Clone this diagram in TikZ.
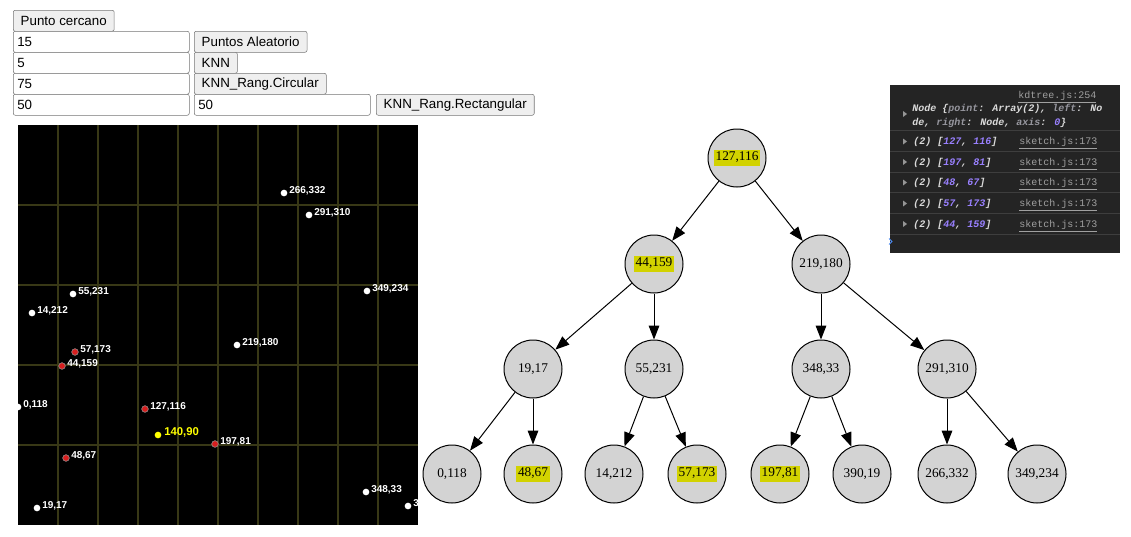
\documentclass[tikz,border=0pt]{standalone}
\usepackage{fontspec}
\usepackage{xcolor}
\setmainfont{Liberation Serif}
\newfontfamily\uifont{Liberation Sans}
\newfontfamily\consfont{Liberation Mono}
\usetikzlibrary{arrows.meta}
\definecolor{hlyellow}{RGB}{210,210,0}
\definecolor{cwhite}{RGB}{218,218,218}
\definecolor{ckey}{RGB}{150,150,158}
\definecolor{cnum}{RGB}{153,128,255}
\definecolor{clink}{RGB}{160,160,160}
\newcommand{\hlmark}[1]{{\setlength{\fboxsep}{1.5pt}\colorbox{hlyellow}{\rule[-2.6pt]{0pt}{9.4pt}#1}}}

\begin{document}
\begin{tikzpicture}[x=0.75pt,y=0.75pt,yscale=-1,xscale=1,
  btn/.style={draw={rgb, 255:red, 118; green, 118; blue, 118}, fill={rgb, 255:red, 239; green, 239; blue, 239}, rounded corners=1.5pt, anchor=north west, minimum height=15.75pt, inner xsep=5.6pt, inner ysep=0pt, font=\uifont\fontsize{10pt}{12pt}\selectfont},
  field/.style={draw={rgb, 255:red, 118; green, 118; blue, 118}, fill=white, rounded corners=1.5pt, anchor=north west, minimum height=15.75pt, text width=126pt, inner xsep=3pt, inner ysep=0pt, align=left, font=\uifont\fontsize{10pt}{12pt}\selectfont},
  dot/.style={circle, fill=white, inner sep=0pt, minimum size=5pt},
  hitdot/.style={dot, fill={rgb, 255:red, 215; green, 30; blue, 30}, draw={rgb, 255:red, 150; green, 150; blue, 150}, line width=0.4pt},
  dotlbl/.style={anchor=base west, inner sep=0pt, text=white, font=\uifont\bfseries\fontsize{7.5pt}{9pt}\selectfont},
  kd/.style={circle, draw, line width=0.75pt, fill={rgb, 255:red, 211; green, 211; blue, 211}, minimum size=43.5pt, inner sep=0pt, font=\fontsize{10pt}{12pt}\selectfont},
  kdedge/.style={-{Triangle[length=10.5pt,width=8pt]}, line width=0.75pt},
  cons/.style={anchor=base west, inner sep=0pt, text=cwhite, font=\consfont\bfseries\itshape\fontsize{7.5pt}{9pt}\selectfont},
  conslink/.style={anchor=base west, inner sep=0pt, text=clink, font=\consfont\fontsize{7.5pt}{9pt}\selectfont},
  fold/.style={fill={rgb, 255:red, 150; green, 150; blue, 150}}
]
\useasboundingbox (0,0) rectangle (1131,536);

%Controls
\node [btn] (bcerca) at (13,10) {Punto cercano};
\node [field] (fnum) at (13,31) {15};
\node [btn] (brand) at (194,31) {Puntos Aleatorio};
\node [field] (fk) at (13,52) {5};
\node [btn] (bknn) at (194,52) {KNN};
\node [field] (frad) at (13,73) {75};
\node [btn] (bcirc) at (194,73) {KNN\_Rang.Circular};
\node [field] (fw) at (13,94) {50};
\node [field] (fh) at (194,94) {50};
\node [btn] (brect) at (376,94) {KNN\_Rang.Rectangular};

%Canvas
\fill [black] (18,125) rectangle (418,525);
\begin{scope}
\clip (18,125) rectangle (418,525);
\foreach \gx in {58,98,...,378}
  \draw [color={rgb, 255:red, 56; green, 56; blue, 22}, line width=0.9pt] (\gx,125) -- (\gx,525);
\foreach \gy in {205,285,365,445}
  \draw [color={rgb, 255:red, 56; green, 56; blue, 22}, line width=0.9pt] (18,\gy) -- (418,\gy);
%points
\foreach \px/\py in {266/332,291/310,55/231,14/212,349/234,219/180,0/118,348/33,19/17,390/19}{
  \node [dot] (p\px-\py) at ({18+\px},{525-\py}) {};
  \node [dotlbl] (l\px-\py) at ({23+\px},{525-\py}) {\px,\py};
}
\foreach \px/\py in {57/173,44/159,127/116,197/81,48/67}{
  \node [hitdot] (p\px-\py) at ({18+\px},{525-\py}) {};
  \node [dotlbl] (l\px-\py) at ({23+\px},{525-\py}) {\px,\py};
}
%query point
\node [dot, fill={rgb, 255:red, 255; green, 255; blue, 0}] (q140-90) at (158,435) {};
\node [dotlbl, text={rgb, 255:red, 255; green, 255; blue, 0}, font=\uifont\bfseries\fontsize{8.5pt}{10pt}\selectfont] (lq140-90) at (164,435) {140,90};
\end{scope}

%kd-tree
\node [kd] (n127-116) at (737,158) {\hlmark{127,116}};
\node [kd] (n44-159) at (654,264) {\hlmark{44,159}};
\node [kd] (n219-180) at (821,264) {219,180};
\node [kd] (n19-17) at (533,369) {19,17};
\node [kd] (n55-231) at (654,369) {55,231};
\node [kd] (n348-33) at (821,369) {348,33};
\node [kd] (n291-310) at (947,369) {291,310};
\node [kd] (n0-118) at (452,474) {0,118};
\node [kd] (n48-67) at (533,474) {\hlmark{48,67}};
\node [kd] (n14-212) at (614,474) {14,212};
\node [kd] (n57-173) at (697,474) {\hlmark{57,173}};
\node [kd] (n197-81) at (780,474) {\hlmark{197,81}};
\node [kd] (n390-19) at (862,474) {390,19};
\node [kd] (n266-332) at (947,474) {266,332};
\node [kd] (n349-234) at (1037,474) {349,234};

\draw [kdedge] (n127-116) -- (n44-159);
\draw [kdedge] (n127-116) -- (n219-180);
\draw [kdedge] (n44-159) -- (n19-17);
\draw [kdedge] (n44-159) -- (n55-231);
\draw [kdedge] (n219-180) -- (n348-33);
\draw [kdedge] (n219-180) -- (n291-310);
\draw [kdedge] (n19-17) -- (n0-118);
\draw [kdedge] (n19-17) -- (n48-67);
\draw [kdedge] (n55-231) -- (n14-212);
\draw [kdedge] (n55-231) -- (n57-173);
\draw [kdedge] (n348-33) -- (n197-81);
\draw [kdedge] (n348-33) -- (n390-19);
\draw [kdedge] (n291-310) -- (n266-332);
\draw [kdedge] (n291-310) -- (n349-234);

%Console
\fill [color={rgb, 255:red, 36; green, 36; blue, 36}] (890,85) rectangle (1120,253);
\foreach \ry in {130,151,172,192,213,234}
  \draw [color={rgb, 255:red, 62; green, 62; blue, 62}, line width=0.75pt] (890,\ry) -- (1120,\ry);
\node [conslink] (src0) at (1018,98.5) {\underline{kdtree.js:254}};
\fill [fold] (903,111) -- (907,114) -- (903,117) -- cycle;
\node [cons] (obj1) at (912,111.5) {Node \{\textcolor{ckey}{point}: Array(2), \textcolor{ckey}{left}: No};
\node [cons] (obj2) at (912,125) {de, \textcolor{ckey}{right}: Node, \textcolor{ckey}{axis}: \textcolor{cnum}{0}\}};
\foreach \ry/\ax/\ay [count=\i] in {144.5/127/116,165/197/81,185.5/48/67,206.5/57/173,227/44/159}{
  \fill [fold] (903,\ry-6) -- (907,\ry-3) -- (903,\ry) -- cycle;
  \node [cons] (arr\i) at (913,\ry) {(2) [\textcolor{cnum}{\ax}, \textcolor{cnum}{\ay}]};
  \node [conslink] (src\i) at (1019,\ry) {\underline{sketch.js:173}};
}
\draw [color={rgb, 255:red, 78; green, 141; blue, 245}, line width=0.75pt] (889,238.5) -- (892,241.5) -- (889,244.5);

\end{tikzpicture}
\end{document}
